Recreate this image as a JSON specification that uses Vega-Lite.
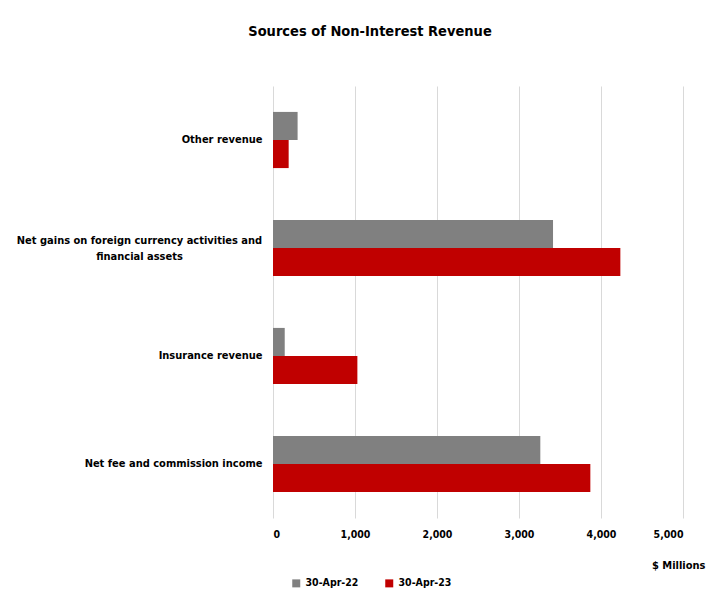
{
  "$schema": "https://vega.github.io/schema/vega-lite/v6.json",
  "autosize": "none",
  "width": 410,
  "height": 432,
  "padding": {"left": 273, "top": 86, "right": 45, "bottom": 79},
  "background": "white",
  "title": {
    "text": "Sources of Non-Interest Revenue",
    "fontSize": 14.5,
    "fontWeight": "bold",
    "font": "DejaVu Sans Condensed, sans-serif",
    "color": "#000000",
    "anchor": "middle",
    "dx": -108,
    "offset": 47
  },
  "data": {
    "values": [
      {"category": "Other revenue", "period": "30-Apr-22", "value": 300},
      {"category": "Other revenue", "period": "30-Apr-23", "value": 191},
      {"category": "Net gains on foreign currency activities and financial assets", "period": "30-Apr-22", "value": 3415},
      {"category": "Net gains on foreign currency activities and financial assets", "period": "30-Apr-23", "value": 4236},
      {"category": "Insurance revenue", "period": "30-Apr-22", "value": 143},
      {"category": "Insurance revenue", "period": "30-Apr-23", "value": 1029},
      {"category": "Net fee and commission income", "period": "30-Apr-22", "value": 3260},
      {"category": "Net fee and commission income", "period": "30-Apr-23", "value": 3870}
    ]
  },
  "mark": {"type": "bar"},
  "encoding": {
    "y": {
      "field": "category",
      "type": "nominal",
      "sort": null,
      "scale": {"paddingInner": 0.48, "paddingOuter": 0.24},
      "axis": {
        "title": null,
        "domain": false,
        "ticks": false,
        "labelPadding": {"condition": {"test": "datum.value == 'Net gains on foreign currency activities and financial assets'", "value": 134}, "value": 11},
        "labelAlign": {"condition": {"test": "datum.value == 'Net gains on foreign currency activities and financial assets'", "value": "center"}, "value": "right"},
        "labelOffset": {"condition": {"test": "datum.value == 'Net gains on foreign currency activities and financial assets'", "value": -7}, "value": 0},
        "labelLimit": 400,
        "labelFontSize": 11,
        "labelFontWeight": "bold",
        "labelColor": "#000000",
        "labelFont": "DejaVu Sans Condensed, sans-serif",
        "labelLineHeight": 16,
        "labelExpr": "datum.label == 'Net gains on foreign currency activities and financial assets' ? ['Net gains on foreign currency activities and', 'financial assets'] : datum.label"
      }
    },
    "yOffset": {
      "field": "period",
      "type": "nominal",
      "sort": ["30-Apr-22", "30-Apr-23"],
      "scale": {"paddingInner": 0, "paddingOuter": 0}
    },
    "x": {
      "field": "value",
      "type": "quantitative",
      "scale": {"domain": [0, 5000], "nice": false},
      "axis": {
        "values": [0, 1000, 2000, 3000, 4000, 5000],
        "format": ",.0f",
        "domain": false,
        "ticks": false,
        "grid": true,
        "gridColor": "#d9d9d9",
        "labelPadding": 11,
        "labelFontSize": 10.5,
        "labelFontWeight": "bold",
        "labelColor": "#000000",
        "labelFont": "DejaVu Sans Condensed, sans-serif",
        "title": "$ Millions",
        "titleFontSize": 11,
        "titleFontWeight": "bold",
        "titleColor": "#000000",
        "titleFont": "DejaVu Sans Condensed, sans-serif",
        "titleAlign": "right",
        "titleAnchor": "end",
        "titleX": 432,
        "titleY": 47,
        "titleBaseline": "middle"
      }
    },
    "color": {
      "field": "period",
      "type": "nominal",
      "scale": {"domain": ["30-Apr-22", "30-Apr-23"], "range": ["#808080", "#C00000"]},
      "legend": {
        "title": null,
        "orient": "none",
        "direction": "horizontal",
        "legendX": 18,
        "legendY": 492,
        "symbolType": "square",
        "symbolSize": 64,
        "symbolStrokeWidth": 0,
        "labelFontSize": 10.5,
        "labelFontWeight": "bold",
        "labelColor": "#000000",
        "labelFont": "DejaVu Sans Condensed, sans-serif",
        "labelOffset": 4,
        "columnPadding": 25
      }
    }
  },
  "config": {
    "view": {"stroke": null}
  }
}
